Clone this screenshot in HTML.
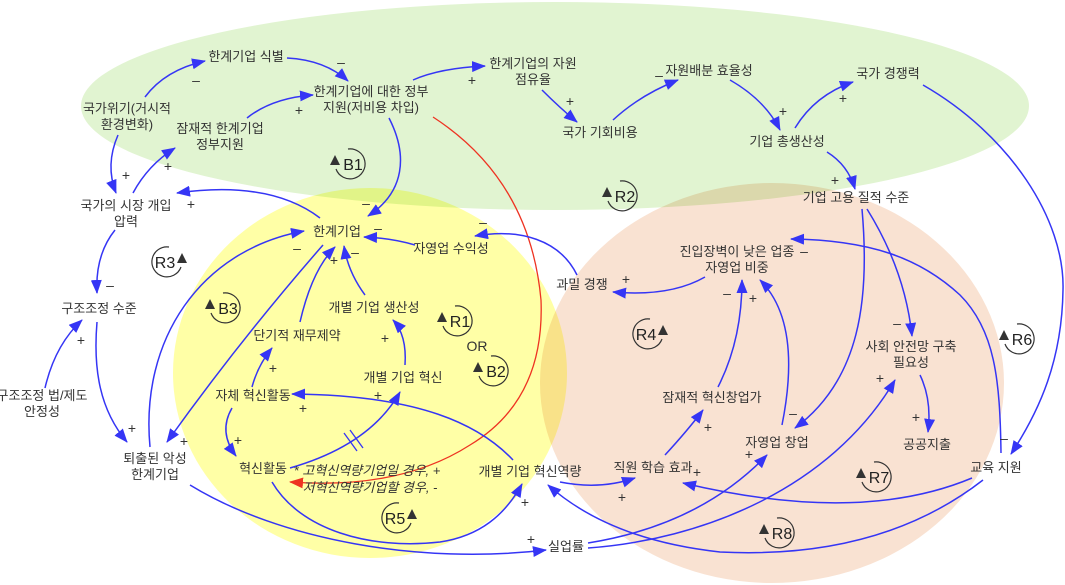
<!DOCTYPE html>
<html><head><meta charset="utf-8"><style>
html,body{margin:0;padding:0;background:#fff;}
svg{display:block;}
text{font-family:"Liberation Sans","Noto Sans CJK KR",sans-serif;fill:#333;}
.n{font-size:13px;text-anchor:middle;}
.s{font-size:14px;text-anchor:middle;}
.l{font-size:16px;text-anchor:middle;fill:#222;}
.e{fill:none;stroke:#3535f5;stroke-width:1.5;marker-end:url(#a);}
.la{fill:none;stroke:#333;stroke-width:1.2;}
</style></head><body>
<svg width="1065" height="585" viewBox="0 0 1065 585" xmlns="http://www.w3.org/2000/svg">
<defs>
<marker id="a" viewBox="0 0 14 11" refX="13" refY="5.5" markerWidth="14" markerHeight="11" markerUnits="userSpaceOnUse" orient="auto"><path d="M0,0 L14,5.5 L0,11 z" fill="#3535f5"/></marker>
<marker id="r" viewBox="0 0 14 11" refX="13" refY="5.5" markerWidth="14" markerHeight="11" markerUnits="userSpaceOnUse" orient="auto"><path d="M0,0 L14,5.5 L0,11 z" fill="#ee3322"/></marker>
</defs>
<rect width="1065" height="585" fill="#fff"/>
<ellipse cx="555" cy="106" rx="474" ry="104" fill="#e1f4d1" style="mix-blend-mode:multiply"/>
<ellipse cx="370" cy="373" rx="197" ry="185" fill="#ffffa6" style="mix-blend-mode:multiply"/>
<ellipse cx="772" cy="383" rx="232" ry="200" fill="#f9e2d2" style="mix-blend-mode:multiply"/>

<!-- edges -->
<path class="e" d="M145,97 Q165,70 205,61"/>
<path class="e" d="M287,58 Q325,60 348,81"/>
<path class="e" d="M247,118 Q272,98 313,95"/>
<path class="e" d="M118,135 Q105,165 116,193"/>
<path class="e" d="M133,193 Q148,165 175,148"/>
<path class="e" d="M389,118 C408,155 405,192 368,216"/>
<path d="M433,117 Q530,180 541,300 Q545,400 470,445 Q400,490 290,482" fill="none" stroke="#ee3322" stroke-width="1.3" marker-end="url(#r)"/>
<path class="e" d="M413,80 Q440,68 485,66"/>
<path class="e" d="M542,90 Q560,108 577,122"/>
<path class="e" d="M613,120 Q640,95 678,80"/>
<path class="e" d="M730,80 Q765,100 780,130"/>
<path class="e" d="M795,128 Q815,95 853,82"/>
<path class="e" d="M827,152 Q848,165 855,189"/>
<path class="e" d="M923,85 C1010,135 1065,220 1063,290 C1062,360 1040,410 1011,454"/>
<path class="e" d="M1001,453 C1000,380 995,330 960,295 C920,258 870,240 791,239"/>
<path class="e" d="M862,209 C870,300 860,380 795,428"/>
<path class="e" d="M867,209 Q905,270 912,336"/>
<path class="e" d="M920,375 Q932,400 928,432"/>
<path class="e" d="M588,548 C700,540 830,490 895,380"/>
<path class="e" d="M588,543 Q700,525 767,455"/>
<path class="e" d="M665,455 Q688,430 703,410"/>
<path class="e" d="M718,387 Q742,340 742,280"/>
<path class="e" d="M782,425 C795,360 790,310 760,280"/>
<path class="e" d="M705,277 Q670,297 613,292"/>
<path class="e" d="M577,275 C560,240 520,228 475,236"/>
<path class="e" d="M415,245 Q392,238 364,237"/>
<path class="e" d="M365,295 Q348,272 344,246"/>
<path class="e" d="M300,322 Q312,270 335,247"/>
<path class="e" d="M323,245 Q240,340 167,442"/>
<path class="e" d="M320,218 Q270,180 177,193"/>
<path class="e" d="M115,230 Q95,255 97,293"/>
<path class="e" d="M45,388 Q55,345 82,320"/>
<path class="e" d="M97,322 C93,370 100,410 127,442"/>
<path class="e" d="M150,447 C140,340 200,250 304,231"/>
<path class="e" d="M190,485 C280,540 420,565 546,550"/>
<path class="e" d="M272,482 C300,530 370,550 440,542 C480,536 505,515 522,484"/>
<path class="e" d="M290,468 Q370,445 400,392"/>
<path class="e" d="M405,365 Q407,335 393,320"/>
<path class="e" d="M232,408 Q218,432 236,456"/>
<path class="e" d="M252,387 Q258,365 272,348"/>
<path class="e" d="M513,460 C480,425 420,395 292,394"/>
<path class="e" d="M972,478 Q860,525 683,483"/>
<path class="e" d="M983,480 Q880,560 720,552 Q610,540 548,485"/>
<path class="e" d="M560,482 Q600,490 635,478"/>
<!-- delay marks -->
<path d="M344,433 L357,451 M350,430 L363,448" stroke="#3535f5" stroke-width="1.3" fill="none"/>

<!-- loop symbols -->
<g transform="translate(350,164)"><path class="la" d="M-2,-15 A15,15 0 1 1 -14,5"/><path d="M-15,-9 L-20,1 L-10,1 z" fill="#333"/><text class="l" x="3" y="6">B1</text></g>
<g transform="translate(622,196)"><path class="la" d="M-2,-15 A15,15 0 1 1 -14,5"/><path d="M-15,-9 L-20,1 L-10,1 z" fill="#333"/><text class="l" x="3" y="6">R2</text></g>
<g transform="translate(167,262)"><path class="la" d="M2,-15 A15,15 0 1 0 14,5"/><path d="M15,-9 L20,1 L10,1 z" fill="#333"/><text class="l" x="-2" y="6">R3</text></g>
<g transform="translate(225,308)"><path class="la" d="M-2,-15 A15,15 0 1 1 -14,5"/><path d="M-15,-9 L-20,1 L-10,1 z" fill="#333"/><text class="l" x="3" y="6">B3</text></g>
<g transform="translate(457,321)"><path class="la" d="M-2,-15 A15,15 0 1 1 -14,5"/><path d="M-15,-9 L-20,1 L-10,1 z" fill="#333"/><text class="l" x="3" y="6">R1</text></g>
<g transform="translate(493,371)"><path class="la" d="M-2,-15 A15,15 0 1 1 -14,5"/><path d="M-15,-9 L-20,1 L-10,1 z" fill="#333"/><text class="l" x="3" y="6">B2</text></g>
<g transform="translate(648,334)"><path class="la" d="M2,-15 A15,15 0 1 0 14,5"/><path d="M15,-9 L20,1 L10,1 z" fill="#333"/><text class="l" x="-2" y="6">R4</text></g>
<g transform="translate(397,518)"><path class="la" d="M2,-15 A15,15 0 1 0 14,5"/><path d="M15,-9 L20,1 L10,1 z" fill="#333"/><text class="l" x="-2" y="6">R5</text></g>
<g transform="translate(1019,339)"><path class="la" d="M-2,-15 A15,15 0 1 1 -14,5"/><path d="M-15,-9 L-20,1 L-10,1 z" fill="#333"/><text class="l" x="3" y="6">R6</text></g>
<g transform="translate(876,477)"><path class="la" d="M-2,-15 A15,15 0 1 1 -14,5"/><path d="M-15,-9 L-20,1 L-10,1 z" fill="#333"/><text class="l" x="3" y="6">R7</text></g>
<g transform="translate(779,533)"><path class="la" d="M-2,-15 A15,15 0 1 1 -14,5"/><path d="M-15,-9 L-20,1 L-10,1 z" fill="#333"/><text class="l" x="3" y="6">R8</text></g>
<text class="n" x="477" y="351" style="font-size:14px">OR</text>

<!-- nodes -->
<text class="n" x="246" y="61">한계기업 식별</text>
<text class="n" x="127" y="113">국가위기(거시적</text>
<text class="n" x="127" y="129">환경변화)</text>
<text class="n" x="220" y="133">잠재적 한계기업</text>
<text class="n" x="220" y="149">정부지원</text>
<text class="n" x="371" y="96">한계기업에 대한 정부</text>
<text class="n" x="371" y="112">지원(저비용 차입)</text>
<text class="n" x="533" y="68">한계기업의 자원</text>
<text class="n" x="533" y="84">점유율</text>
<text class="n" x="600" y="137">국가 기회비용</text>
<text class="n" x="709" y="75">자원배분 효율성</text>
<text class="n" x="888" y="78">국가 경쟁력</text>
<text class="n" x="787" y="146">기업 총생산성</text>
<text class="n" x="856" y="202">기업 고용 질적 수준</text>
<text class="n" x="126" y="210">국가의 시장 개입</text>
<text class="n" x="126" y="226">압력</text>
<text class="n" x="337" y="236">한계기업</text>
<text class="n" x="451" y="253">자영업 수익성</text>
<text class="n" x="582" y="289">과밀 경쟁</text>
<text class="n" x="737" y="256">진입장벽이 낮은 업종</text>
<text class="n" x="737" y="272">자영업 비중</text>
<text class="n" x="99" y="313">구조조정 수준</text>
<text class="n" x="374" y="312">개별 기업 생산성</text>
<text class="n" x="297" y="340">단기적 재무제약</text>
<text class="n" x="911" y="351">사회 안전망 구축</text>
<text class="n" x="911" y="367">필요성</text>
<text class="n" x="712" y="402">잠재적 혁신창업가</text>
<text class="n" x="403" y="382">개별 기업 혁신</text>
<text class="n" x="253" y="400">자체 혁신활동</text>
<text class="n" x="263" y="473">혁신활동</text>
<text class="n" x="367" y="475" style="font-style:italic">* 고혁신역량기업일 경우, +</text>
<text class="n" x="370" y="492" style="font-style:italic">저혁신역량기업할 경우, -</text>
<text class="n" x="530" y="476">개별 기업 혁신역량</text>
<text class="n" x="653" y="472">직원 학습 효과</text>
<text class="n" x="777" y="447">자영업 창업</text>
<text class="n" x="927" y="449">공공지출</text>
<text class="n" x="996" y="472">교육 지원</text>
<text class="n" x="566" y="551">실업률</text>
<text class="n" x="155" y="463">퇴출된 악성</text>
<text class="n" x="155" y="479">한계기업</text>
<text class="n" x="42" y="400">구조조정 법/제도</text>
<text class="n" x="42" y="416">안정성</text>

<!-- polarity signs -->
<text class="s" x="196" y="85">–</text>
<text class="s" x="341" y="67">–</text>
<text class="s" x="299" y="115">+</text>
<text class="s" x="126" y="180">+</text>
<text class="s" x="168" y="171">+</text>
<text class="s" x="472" y="85">+</text>
<text class="s" x="570" y="106">+</text>
<text class="s" x="659" y="80">–</text>
<text class="s" x="783" y="116">+</text>
<text class="s" x="843" y="103">+</text>
<text class="s" x="835" y="185">+</text>
<text class="s" x="366" y="208">–</text>
<text class="s" x="378" y="233">–</text>
<text class="s" x="483" y="227">–</text>
<text class="s" x="626" y="284">+</text>
<text class="s" x="804" y="256">–</text>
<text class="s" x="727" y="298">–</text>
<text class="s" x="753" y="303">+</text>
<text class="s" x="897" y="328">–</text>
<text class="s" x="880" y="383">+</text>
<text class="s" x="916" y="422">+</text>
<text class="s" x="1004" y="443">–</text>
<text class="s" x="793" y="418">–</text>
<text class="s" x="749" y="459">+</text>
<text class="s" x="708" y="432">+</text>
<text class="s" x="697" y="477">+</text>
<text class="s" x="622" y="502">+</text>
<text class="s" x="525" y="507">+</text>
<text class="s" x="531" y="544">+</text>
<text class="s" x="191" y="209">+</text>
<text class="s" x="110" y="290">–</text>
<text class="s" x="81" y="345">+</text>
<text class="s" x="132" y="433">+</text>
<text class="s" x="184" y="446">+</text>
<text class="s" x="297" y="253">–</text>
<text class="s" x="334" y="265">+</text>
<text class="s" x="355" y="257">–</text>
<text class="s" x="273" y="373">+</text>
<text class="s" x="385" y="343">+</text>
<text class="s" x="378" y="400">+</text>
<text class="s" x="303" y="413">+</text>
<text class="s" x="238" y="445">+</text>
</svg>
</body></html>
